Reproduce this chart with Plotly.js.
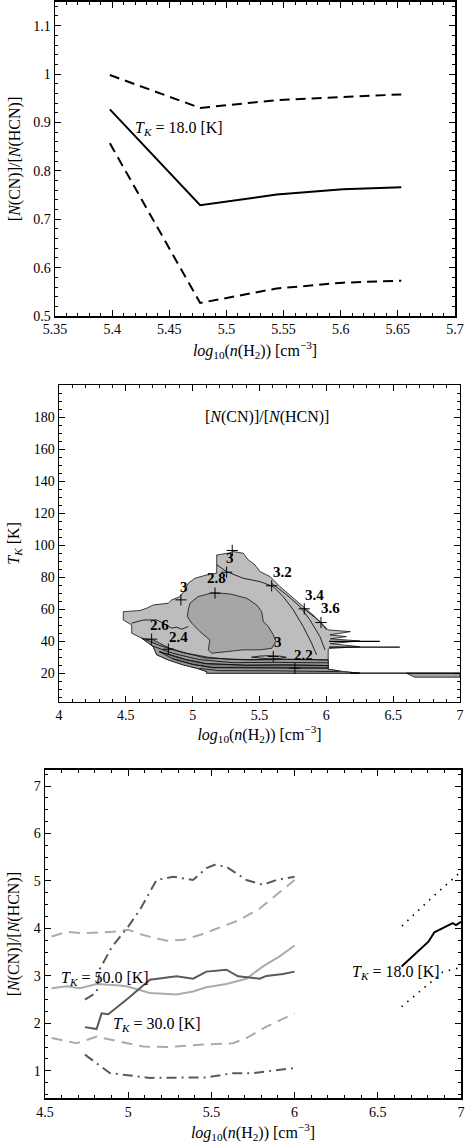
<!DOCTYPE html>
<html><head><meta charset="utf-8">
<script src="https://cdn.plot.ly/plotly-3.0.1.min.js"></script>
<style>html,body{margin:0;padding:0;background:#fff}#chart{width:465px;height:1148px}</style>
</head><body><div id="chart"></div>
<script>
// ---------- Panel 1 data ----------
const p1X     = [5.398, 5.477, 5.544, 5.602, 5.653];
const p1Mean  = [0.927, 0.729, 0.751, 0.762, 0.766];
const p1Upper = [0.998, 0.930, 0.946, 0.953, 0.958];
const p1Lower = [0.857, 0.527, 0.557, 0.569, 0.573];

// ---------- Panel 2 data (region outlines, contour lines, labels) ----------
const outerX = [4.481,4.606,4.656,4.705,4.818,4.843,4.905,4.942,4.967,5.017,5.105,5.180,5.180,5.267,5.304,5.378,5.416,5.466,5.503,5.578,5.653,5.740,5.827,5.915,5.977,6.014,6.18,6.027,6.15,6.03,6.25,6.03,6.25,6.02,6.014,6.014,6.127,6.25,5.105,5.105,5.03,4.93,4.818,4.731,4.705,4.619,4.544,4.544,4.481,4.481];
const outerY = [58.5,59.2,60.7,62.7,63.8,65.9,67.9,72.1,76.3,79.4,81.5,82.6,94.0,95.1,96.1,95.1,90.9,87.8,83.6,80.5,74.2,67.9,61.7,55.4,50.2,47.1,46.0,44.0,42.9,41.5,40.2,38.5,36.6,35.5,34.6,22.5,21.0,20.0,20.0,21.0,23.1,25.2,28.3,31.5,36.6,41.9,45.0,50.2,53.3,58.5];
const blobX = [4.967,4.98,5.04,5.154,5.279,5.404,5.479,5.516,5.528,5.566,5.603,5.623,5.591,5.503,5.378,5.254,5.142,5.117,5.129,5.055,4.993,4.96,4.967];
const blobY = [59.6,63.8,67.9,70.4,69.6,66.9,62.7,58.5,52.3,49.2,44.0,39.8,35.6,34.6,34.6,33.5,32.5,34.6,40.8,46.0,51.3,55.4,59.6];
const bandX = [4.619,4.705,4.830,4.955,5.117,5.279,5.453,5.703,6.014,6.014,6.127,6.25,5.105,5.105,5.03,4.93,4.818,4.731,4.705,4.619];
const bandY = [41.9,40.8,35.6,32.5,30.0,28.6,28.3,28.6,28.3,22.5,21.0,20.0,20.0,21.0,23.1,25.2,28.3,31.5,36.6,41.9];
const band2X = [4.75,4.95,5.10,5.40,5.70,6.014,6.014,5.50,5.15,5.00,4.85,4.75];
const band2Y = [33.5,28.5,26.0,25.0,25.2,24.8,23.2,23.3,23.5,25.5,29.0,33.5];
const line32X = [5.18,5.254,5.378,5.503,5.603,5.678,5.753,5.827,5.890,5.927];
const line32Y = [87.8,83.6,79.4,77.3,74.2,67.9,59.6,49.2,38.8,31.5];
const line34X = [5.591,5.703,5.803,5.877,5.952,5.990];
const line34Y = [76.3,69.0,61.7,53.4,42.9,34.6];
const line36X = [5.827,5.952,6.002];
const line36Y = [60.7,52.3,47.1];
const line26X = [4.544,4.631,4.731,4.780,4.843,4.880,4.918,4.967];
const line26Y = [51.3,53.3,53.3,51.3,48.2,48.8,47.5,49.2];
const ringX = [5.44,5.50,5.57,5.65,5.70,5.65,5.57,5.50,5.44];
const ringY = [30.0,30.7,31.0,30.7,30.0,29.3,29.0,29.3,30.0];
const stripesX = [
  [4.62,4.75,4.90,5.10,5.40,5.70,6.014],
  [4.70,4.85,5.05,5.30,5.60,6.014],
  [4.75,4.95,5.10,5.40,5.70,6.014],
  [4.85,5.00,5.15,5.50,6.014],
  [5.05,5.20,5.60,6.10]
];
const stripesY = [
  [41.9,37.5,33.5,29.5,28.5,28.8,28.3],
  [37.0,32.5,28.5,26.6,26.8,26.5],
  [33.5,28.5,26.0,25.0,25.2,24.8],
  [29.0,25.5,23.5,23.3,23.2],
  [23.0,21.6,21.5,21.0]
];
const spikeLinesX = [[6.177,7.0],[6.02,6.40],[6.02,6.55]];
const spikeLinesY = [[20.0,20.0],[39.9,39.9],[36.3,36.3]];
const tailX = [6.60,6.66,7.0,7.0,6.60];
const tailY = [20.0,17.5,17.5,20.0,20.0];
const labelText = ["3","2.8","3","3.2","3.4","3.6","2.6","2.4","3","2.2"];
const labelX = [5.279,5.179,4.937,5.673,5.915,6.034,4.755,4.893,5.636,5.832];
const labelY = [92.0,79.5,74.2,83.6,69.0,60.7,50.2,42.9,39.8,31.5];
const crossX = [5.296,5.254,4.912,5.591,5.835,5.96,4.693,4.818,5.603,5.765,5.167];
const crossY = [96.8,83.2,65.9,74.7,60.3,51.7,41.3,35.0,30.4,23.1,70.1];

// ---------- Panel 3 data ----------
const t30UpX = [4.74,4.81,4.83,4.90,5.00,5.07,5.17,5.27,5.39,5.47,5.52,5.59,5.71,5.81,5.89,6.00];
const t30UpY = [2.50,2.65,3.15,3.60,4.04,4.39,5.02,5.09,5.02,5.27,5.34,5.30,5.02,4.92,5.02,5.09];
const t30LoX = [4.74,4.89,5.13,5.29,5.47,5.63,5.75,6.00];
const t30LoY = [1.34,0.95,0.85,0.85,0.86,0.95,0.95,1.06];
const t30MeanX = [4.74,4.81,4.84,4.88,5.00,5.13,5.29,5.39,5.47,5.59,5.66,5.79,5.83,5.93,6.00];
const t30MeanY = [1.92,1.88,2.21,2.19,2.53,2.92,2.99,2.94,3.09,3.13,2.99,2.94,3.00,3.04,3.09];
const t50MeanX = [4.54,4.63,4.71,4.81,4.91,4.99,5.13,5.29,5.39,5.47,5.59,5.71,5.81,5.91,6.00];
const t50MeanY = [2.74,2.78,2.74,2.83,2.81,2.78,2.64,2.61,2.67,2.76,2.83,2.94,3.20,3.41,3.64];
const t50UpX = [4.54,4.63,4.73,4.91,5.00,5.09,5.23,5.33,5.43,5.53,5.67,5.79,5.89,6.00];
const t50UpY = [3.83,3.93,3.90,3.93,3.97,3.86,3.74,3.76,3.86,4.00,4.18,4.42,4.71,5.02];
const t50LoX = [4.54,4.69,4.81,4.95,5.09,5.23,5.43,5.63,5.71,5.83,6.00];
const t50LoY = [1.69,1.58,1.72,1.62,1.51,1.50,1.55,1.58,1.69,1.93,2.21];
const t18MeanX = [6.643,6.72,6.804,6.84,6.914,6.95,6.97,7.00];
const t18MeanY = [3.196,3.45,3.72,3.92,4.04,4.11,4.07,4.14];
const t18UpX = [6.645,6.81,7.00];
const t18UpY = [4.05,4.60,5.20];
const t18LoX = [6.643,6.81,6.89,7.00];
const t18LoY = [2.35,2.85,3.08,3.18];

const SERIF = 'Liberation Serif, DejaVu Serif, serif';
const DARK = '#5a5a5a', LIGHT = '#ababab';

function line(x, y, xa, ya, color, width, dash) {
  return {x, y, xaxis: xa, yaxis: ya, mode: 'lines', type: 'scatter', hoverinfo: 'skip',
          line: {color, width, dash: dash || 'solid'}};
}
function poly(x, y, fill) {
  return {x, y, xaxis: 'x2', yaxis: 'y2', mode: 'lines', type: 'scatter', fill: 'toself',
          fillcolor: fill, hoverinfo: 'skip', line: {color: '#111', width: 0.8}};
}

const traces = [
  line(p1X, p1Upper, 'x', 'y', '#000', 2, '10px,6px'),
  line(p1X, p1Mean, 'x', 'y', '#000', 2),
  line(p1X, p1Lower, 'x', 'y', '#000', 2, '10px,6px'),

  poly(outerX, outerY, '#bdbdbd'),
  poly(blobX, blobY, '#a6a6a6'),
  poly(bandX, bandY, '#9a9a9a'),
  poly(band2X, band2Y, '#7d7d7d'),
  poly(tailX, tailY, '#a0a0a0'),
  line(line32X, line32Y, 'x2', 'y2', '#111', 0.9),
  line(line34X, line34Y, 'x2', 'y2', '#111', 0.9),
  line(line36X, line36Y, 'x2', 'y2', '#111', 0.9),
  line(line26X, line26Y, 'x2', 'y2', '#111', 0.9),
  line(ringX, ringY, 'x2', 'y2', '#111', 0.9),
];
stripesX.forEach((sx, i) => traces.push(line(sx, stripesY[i], 'x2', 'y2', '#111', 0.9)));
spikeLinesX.forEach((sx, i) => traces.push(line(sx, spikeLinesY[i], 'x2', 'y2', '#000', 1.2)));
traces.push({x: crossX, y: crossY, xaxis: 'x2', yaxis: 'y2', mode: 'markers', type: 'scatter',
  hoverinfo: 'skip', marker: {symbol: 'cross-thin', size: 8, line: {color: '#000', width: 1}}});

traces.push(
  line(t50UpX, t50UpY, 'x3', 'y3', LIGHT, 2, '11px,7px'),
  line(t50LoX, t50LoY, 'x3', 'y3', LIGHT, 2, '11px,7px'),
  line(t50MeanX, t50MeanY, 'x3', 'y3', LIGHT, 2),
  line(t30UpX, t30UpY, 'x3', 'y3', DARK, 2, '10px,5px,2px,5px'),
  line(t30LoX, t30LoY, 'x3', 'y3', DARK, 2, '10px,5px,2px,5px'),
  line(t30MeanX, t30MeanY, 'x3', 'y3', DARK, 2),
  line(t18UpX, t18UpY, 'x3', 'y3', '#000', 1.6, '1.5px,6px'),
  line(t18LoX, t18LoY, 'x3', 'y3', '#000', 1.6, '1.5px,6px'),
  line(t18MeanX, t18MeanY, 'x3', 'y3', '#000', 2)
);

function axis(extra) {
  return Object.assign({
    showline: true, linecolor: '#000', linewidth: 1.5, mirror: 'allticks',
    ticks: 'inside', ticklen: 6, tickwidth: 1, tickcolor: '#000',
    showgrid: false, zeroline: false, automargin: false,
    tickfont: {family: SERIF, size: 14, color: '#000'},
  }, extra);
}
const xTitle = '<i>log</i><sub>10</sub>(<i>n</i>(H<sub>2</sub>)) [cm<sup>−3</sup>]';
const ratioTitle = '[<i>N</i>(CN)]/[<i>N</i>(HCN)]';
const titleFont = {family: SERIF, size: 16, color: '#000'};

const annotations = [
  {xref: 'x', yref: 'y', x: 5.4585, y: 0.888, text: '<i>T<sub>K</sub></i> = 18.0 [K]', showarrow: false, font: titleFont},
  {xref: 'x2', yref: 'y2', x: 5.553, y: 180, text: ratioTitle, showarrow: false, font: titleFont},
  {xref: 'x3', yref: 'y3', x: 4.86, y: 2.94, text: '<i>T<sub>K</sub></i> = 50.0 [K]', showarrow: false, font: titleFont},
  {xref: 'x3', yref: 'y3', x: 5.17, y: 1.98, text: '<i>T<sub>K</sub></i> = 30.0 [K]', showarrow: false, font: titleFont},
  {xref: 'x3', yref: 'y3', x: 6.61, y: 3.07, text: '<i>T<sub>K</sub></i> = 18.0 [K]', showarrow: false, font: titleFont},
];
labelText.forEach((t, i) => annotations.push({xref: 'x2', yref: 'y2', x: labelX[i], y: labelY[i],
  text: '<b>' + t + '</b>', showarrow: false, font: {family: SERIF, size: 15, color: '#000'}}));

const layout = {
  width: 465, height: 1148, margin: {l: 0, r: 0, t: 0, b: 0},
  paper_bgcolor: '#fff', plot_bgcolor: '#fff', showlegend: false,
  xaxis: axis({domain: [0.1183, 0.9785], anchor: 'y', range: [5.35, 5.7], tick0: 5.35, dtick: 0.05,
    minor: {ticks: 'inside', ticklen: 3, dtick: 0.01, tickcolor: '#000'},
    title: {text: xTitle, font: titleFont, standoff: 8}}),
  yaxis: axis({domain: [0.7247, 0.9983], anchor: 'x', range: [0.5, 1.149], tick0: 0.5, dtick: 0.1,
    minor: {ticks: 'inside', ticklen: 3, dtick: 0.02, tickcolor: '#000'},
    title: {text: ratioTitle, font: titleFont, standoff: 8}}),
  xaxis2: axis({domain: [0.1269, 0.9892], anchor: 'y2', range: [4, 7], tick0: 4, dtick: 0.5,
    minor: {ticks: 'inside', ticklen: 3, dtick: 0.1, tickcolor: '#000'},
    title: {text: xTitle, font: titleFont, standoff: 6}}),
  yaxis2: axis({domain: [0.3888, 0.6646], anchor: 'x2', range: [2.2, 200.3],
    tickvals: [20,40,60,80,100,120,140,160,180],
    minor: {ticks: 'inside', ticklen: 3, tickvals: [5,10,15,25,30,35,45,50,55,65,70,75,85,90,95,105,110,115,125,130,135,145,150,155,165,170,175,185,190,195], tickcolor: '#000'},
    title: {text: '<i>T<sub>K</sub></i> [K]', font: titleFont, standoff: 10}}),
  xaxis3: axis({domain: [0.0968, 0.9914], anchor: 'y3', range: [4.5, 7], tick0: 4.5, dtick: 0.5,
    minor: {ticks: 'inside', ticklen: 3, dtick: 0.1, tickcolor: '#000'},
    title: {text: xTitle, font: titleFont, standoff: 8}}),
  yaxis3: axis({domain: [0.0433, 0.3293], anchor: 'x3', range: [0.42, 7.34],
    tickvals: [1,2,3,4,5,6,7],
    minor: {ticks: 'inside', ticklen: 3, dtick: 0.25, tick0: 0, tickcolor: '#000'},
    title: {text: ratioTitle, font: titleFont, standoff: 10}}),
  annotations,
};

Plotly.newPlot('chart', traces, layout, {staticPlot: true, displayModeBar: false});
</script>
</body></html>
